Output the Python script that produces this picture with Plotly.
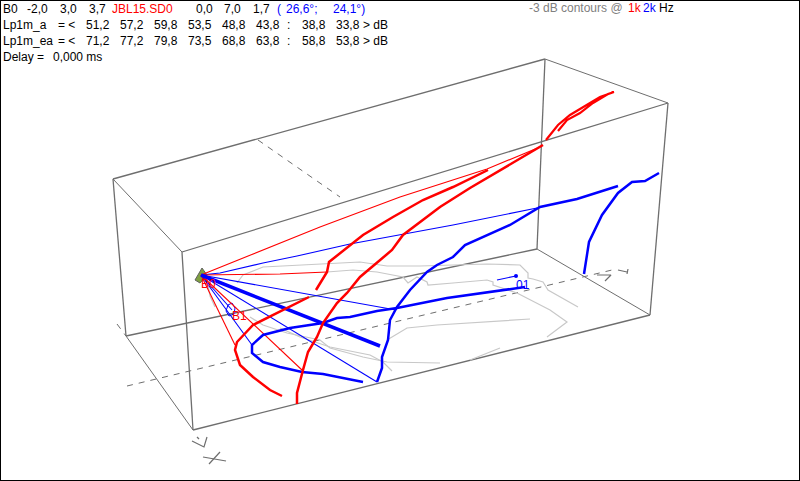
import plotly.graph_objects as go

# Chart data (projected screen-plane values)
box_edges = [
    ([113, 545], [179, 59]), ([182, 668], [252, 103]),
    ([113, 126], [179, 336]), ([182, 193], [252, 430]),
    ([545, 537], [59, 249]), ([668, 650], [103, 315]),
    ([193, 650], [430, 315]), ([126, 537], [336, 249]),
]
box_depth_edges = [
    ([113, 182], [179, 252]), ([545, 668], [59, 103]),
    ([126, 193], [336, 430]), ([537, 650], [249, 315]),
]
axis_dash = [([127, 612], [386, 270]), ([258, 340], [140, 197]), ([117, 126], [324, 336])]
axis_glyphs = [
    ([192, 204, 207], [441, 447, 437]), ([197, 199], [437, 439]),
    ([203, 226], [457, 461]), ([220, 209], [452, 464]),
    ([597, 611, 605], [275, 275, 281]), ([618, 627], [270, 272]), ([628, 627], [269, 274]),
]
gray_contours = [
    ([237, 243, 263, 320, 360, 387, 420, 487, 520, 528, 528, 533, 543, 548, 578],
     [283, 275, 267, 264, 262, 266, 266, 264, 265, 273, 278, 279, 282, 290, 307]),
    ([327, 353, 377, 403, 408, 417, 427, 428, 453, 487, 493, 493, 517, 550, 567, 547],
     [272, 270, 272, 277, 283, 277, 282, 285, 283, 280, 282, 285, 293, 310, 322, 337]),
    ([250, 263, 287, 310, 320, 330, 363, 387, 440], [317, 325, 333, 338, 340, 348, 357, 362, 363]),
    ([280, 300, 330, 370, 383, 392], [328, 337, 347, 355, 362, 371]),
    ([387, 407, 437, 487, 530], [340, 328, 325, 322, 319]),
    ([470, 500], [360, 348]),
    ([208, 210, 215], [285, 296, 307]),
]
blue_thin = [
    ([201, 220, 263, 297, 350, 403, 453, 537], [275, 273, 263, 256, 244, 234, 225, 208]),
    ([201, 377], [275, 382]),
    ([201, 396], [275, 310]),
    ([201, 252], [275, 345]),
    ([201, 232], [275, 310]),
    ([497, 516], [280, 276]),
]
blue_thick_a = ([201, 380], [275, 346])
blue_loop = ([525, 447, 397, 377, 350, 337, 323, 290, 263, 252, 252, 263, 280, 302, 323, 363],
             [287, 298, 308, 311, 317, 318, 323, 328, 335, 345, 353, 362, 367, 372, 374, 382])
blue_long = ([377, 382, 382, 388, 390, 397, 410, 427, 437, 453, 465, 487, 510, 540, 577, 618],
             [382, 368, 357, 340, 320, 307, 290, 272, 265, 257, 245, 235, 225, 207, 199, 186])
blue_far = ([584, 589, 602, 618, 632, 645, 659], [274, 242, 215, 193, 182, 181, 173])
red_thin = [
    ([201, 250, 280, 327], [275, 274, 274, 272]),
    ([201, 320, 400, 487, 540], [275, 227, 197, 169, 147]),
    ([201, 302], [275, 370]),
    ([201, 235], [275, 345]),
]
red_a = ([316, 327, 329, 350, 363, 393, 423, 453, 488], [290, 272, 262, 245, 235, 217, 200, 187, 170])
red_b = ([297, 297, 303, 308, 317, 323, 337, 347, 360, 380, 392, 403, 440, 470, 543],
         [404, 393, 370, 352, 337, 323, 303, 293, 277, 260, 250, 235, 207, 188, 145])
red_c = ([309, 283, 253, 237, 235, 240, 253, 270, 282], [297, 310, 325, 342, 350, 365, 377, 390, 396])
red_top = ([546, 558, 570, 583, 600, 614, 608, 593, 580, 567, 558],
           [140, 125, 115, 107, 97, 92, 94, 103, 113, 120, 131])
source_x = [202, 207, 200, 195, 202]
source_y = [268, 275, 283, 280, 268]
b1_x = [228, 232, 235, 234, 229, 226, 228]
b1_y = [305, 303, 308, 314, 316, 311, 305]
dot_x = [516]
dot_y = [276]

row1 = [("B0", 3, "#000"), ("-2,0", 27, "#000"), ("3,0", 60, "#000"), ("3,7", 89, "#000"),
        ("JBL15.SD0", 112, "#ff0000"), ("0,0", 196, "#000"), ("7,0", 224, "#000"), ("1,7", 253, "#000"),
        ("(", 277, "#0000ff"), ("26,6°;", 286, "#0000ff"), ("24,1°)", 333, "#0000ff")]
column_x = [86, 120, 154, 188, 222, 256, 302, 336]
lp_a = ["51,2", "57,2", "59,8", "53,5", "48,8", "43,8", "38,8", "33,8"]
lp_ea = ["71,2", "77,2", "79,8", "73,5", "68,8", "63,8", "58,8", "53,8"]

GRAY = "#6e6e6e"
LIGHT = "#c8c8c8"
BLUE = "#0000ff"
RED = "#ff0000"

fig = go.Figure()


def line(xy, color, width, dash=None):
    fig.add_trace(go.Scatter(x=xy[0], y=xy[1], mode="lines", hoverinfo="skip",
                             line=dict(color=color, width=width, dash=dash, shape="linear")))


for e in box_edges:
    line(e, GRAY, 1.3)
for e in box_depth_edges:
    line(e, GRAY, 1)
for e in axis_dash:
    line(e, GRAY, 1, "6px,6px")
for e in axis_glyphs:
    line(e, GRAY, 1.2)
for c in gray_contours:
    line(c, LIGHT, 1.2)
fig.add_trace(go.Scatter(x=source_x, y=source_y, mode="lines", fill="toself", fillcolor="#7fa040",
                         line=dict(color="#606060", width=1), hoverinfo="skip"))
line((b1_x, b1_y), BLUE, 1)
for c in blue_thin:
    line(c, BLUE, 1.1)
for c in red_thin:
    line(c, RED, 1.1)
line(blue_thick_a, BLUE, 3.5)
line(blue_loop, BLUE, 2.5)
line(blue_long, BLUE, 2.5)
line(blue_far, BLUE, 2.5)
line(red_a, RED, 2.5)
line(red_b, RED, 2.5)
line(red_c, RED, 2.5)
line(red_top, RED, 2.2)
fig.add_trace(go.Scatter(x=dot_x, y=dot_y, mode="markers", marker=dict(color=BLUE, size=4), hoverinfo="skip"))

annotations = []


def txt(s, x, y, color="#000", size=12):
    annotations.append(dict(text=s, x=x, y=y, xref="x", yref="y", xanchor="left", yanchor="middle",
                            showarrow=False, font=dict(family="Liberation Sans", size=size, color=color),
                            borderpad=0, borderwidth=0))


for s, x, c in row1:
    txt(s, x, 9, c)
for y, name, vals in [(25, "Lp1m_a", lp_a), (41, "Lp1m_ea", lp_ea)]:
    txt(name, 3, y)
    txt("= <", 58, y)
    for s, x in zip(vals, column_x):
        txt(s, x, y)
    txt(":", 287, y)
    txt("> dB", 363, y)
txt("Delay =", 3, 57)
txt("0,000 ms", 53, 57)
txt("-3 dB contours @", 529, 8, "#808080")
txt("1k", 628, 8, RED)
txt("2k", 643, 8, BLUE)
txt("Hz", 659, 8, "#000")
txt("B0", 201, 284, RED)
txt("B1", 232, 316, RED)
txt("01", 516, 285, BLUE)

fig.update_layout(
    width=800, height=481, margin=dict(l=0, r=0, t=0, b=0), autosize=False,
    paper_bgcolor="white", plot_bgcolor="white", showlegend=False,
    xaxis=dict(range=[0, 800], visible=False, fixedrange=True),
    yaxis=dict(range=[481, 0], visible=False, fixedrange=True),
    annotations=annotations,
    shapes=[dict(type="rect", xref="paper", yref="paper", x0=0, x1=1, y0=0, y1=1,
                 line=dict(color="black", width=2))],
)
fig.write_html("out.html", config=dict(displayModeBar=False),
               post_script="document.body.style.margin='0';document.body.style.overflow='hidden';")
